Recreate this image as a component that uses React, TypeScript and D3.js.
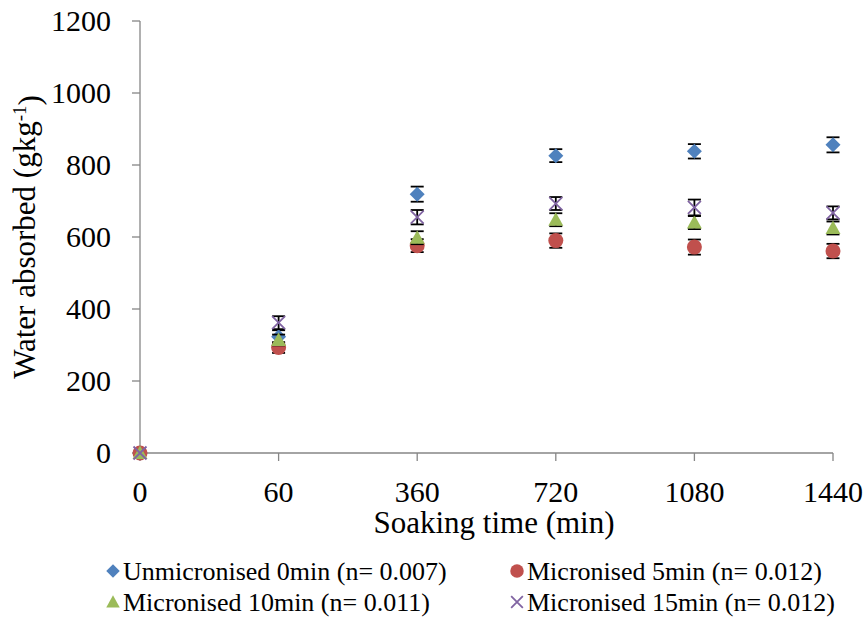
import React from "react";
import * as d3 from "d3";

// Soaking time categories (min)
const times = ["0", "60", "360", "720", "1080", "1440"];

// Water absorbed (g/kg) per series, with standard error
const unmicronised = [0, 323, 719, 826, 838, 856];
const unmicronisedErr = [0, 18, 21, 18, 20, 21];
const micronised5 = [0, 293, 576, 590, 572, 561];
const micronised5Err = [0, 15, 18, 20, 21, 20];
const micronised10 = [0, 314, 598, 648, 640, 625];
const micronised10Err = [0, 15, 18, 18, 18, 18];
const micronised15 = [0, 362, 655, 693, 682, 667];
const micronised15Err = [0, 18, 20, 18, 22, 18];

const yTicks = [0, 200, 400, 600, 800, 1000, 1200];

const seriesNames = [
  "Unmicronised 0min (n= 0.007)",
  "Micronised 5min (n= 0.012)",
  "Micronised 10min (n= 0.011)",
  "Micronised 15min (n= 0.012)",
];

const colors = ["#4F81BD", "#C0504D", "#9BBB59", "#8064A2"];
const shapes = ["diamond", "circle", "triangle", "cross"];

const textStyle = { fontFamily: '"Liberation Serif", monospace' };

function Marker({ shape, color, x, y, s = 1 }: { shape: string; color: string; x: number; y: number; s?: number }) {
  if (shape === "diamond") {
    const r = 7.5 * s;
    return <path d={`M${x},${y - r}L${x + r},${y}L${x},${y + r}L${x - r},${y}Z`} fill={color} />;
  }
  if (shape === "circle") {
    return <circle cx={x} cy={y} r={7.5 * s} fill={color} />;
  }
  if (shape === "triangle") {
    const w = 7.5 * s;
    return <path d={`M${x},${y - 7.5 * s}L${x + w},${y + 6 * s}L${x - w},${y + 6 * s}Z`} fill={color} />;
  }
  const r = 6.5 * s;
  return (
    <path
      d={`M${x - r},${y - r}L${x + r},${y + r}M${x + r},${y - r}L${x - r},${y + r}`}
      stroke={color}
      strokeWidth={1.8}
      fill="none"
    />
  );
}

export default function App() {
  const width = 867;
  const height = 622;
  const x = d3.scalePoint<string>().domain(times).range([140, 833]);
  const y = d3.scaleLinear().domain([0, 1200]).range([453, 21]);

  const series = [
    { values: unmicronised, err: unmicronisedErr },
    { values: micronised5, err: micronised5Err },
    { values: micronised10, err: micronised10Err },
    { values: micronised15, err: micronised15Err },
  ];

  const axisColor = "#868686";
  const capHalf = 6.5;

  return (
    <svg
      width={width}
      height={height}
      style={{ position: "absolute", left: 0, top: 0, background: "#fff" }}
    >
      {/* y axis */}
      <line x1={140} x2={140} y1={y(1200)} y2={y(0)} stroke={axisColor} strokeWidth={1.3} />
      {yTicks.map((t) => (
        <g key={t}>
          <line x1={132} x2={140} y1={y(t)} y2={y(t)} stroke={axisColor} strokeWidth={1.3} />
          <text x={111} y={y(t) + 10} textAnchor="end" fontSize={30} fill="#000" style={textStyle}>
            {t}
          </text>
        </g>
      ))}
      {/* x axis */}
      <line x1={140} x2={833} y1={y(0)} y2={y(0)} stroke={axisColor} strokeWidth={1.3} />
      {times.map((t) => (
        <g key={t}>
          <line x1={x(t)!} x2={x(t)!} y1={y(0)} y2={y(0) + 8} stroke={axisColor} strokeWidth={1.3} />
          <text x={x(t)!} y={502} textAnchor="middle" fontSize={30} fill="#000" style={textStyle}>
            {t}
          </text>
        </g>
      ))}

      {/* axis titles */}
      <text x={494} y={533} textAnchor="middle" fontSize={31} fill="#000" style={textStyle}>
        Soaking time (min)
      </text>
      <text
        transform={`translate(35,${y(600)}) rotate(-90)`}
        textAnchor="middle"
        fontSize={31}
        fill="#000"
        style={textStyle}
      >
        Water absorbed (gkg
        <tspan dy="-0.45em" fontSize={19}>-1</tspan>
        <tspan dy="0.45em">)</tspan>
      </text>

      {/* series markers and error bars */}
      {series.map((s, si) => (
        <g key={si}>
          {s.values.map((v, i) => {
            const cx = x(times[i])!;
            const cy = y(v);
            const e = s.err[i];
            return (
              <g key={i}>
                {e > 0 && (
                  <g stroke="#000" strokeWidth={1.8}>
                    <line x1={cx} x2={cx} y1={y(v + e)} y2={y(v - e)} />
                    <line x1={cx - capHalf} x2={cx + capHalf} y1={y(v + e)} y2={y(v + e)} />
                    <line x1={cx - capHalf} x2={cx + capHalf} y1={y(v - e)} y2={y(v - e)} />
                  </g>
                )}
                <Marker shape={shapes[si]} color={colors[si]} x={cx} y={cy} />
              </g>
            );
          })}
        </g>
      ))}

      {/* legend */}
      {seriesNames.map((name, i) => {
        const col = i % 2;
        const row = Math.floor(i / 2);
        const mx = col === 0 ? 113 : 517;
        const baseline = row === 0 ? 580 : 611;
        return (
          <g key={name}>
            <Marker shape={shapes[i]} color={colors[i]} x={mx} y={baseline - 9} s={0.9} />
            <text x={mx + 10} y={baseline} fontSize={26} fill="#000" style={textStyle}>
              {name}
            </text>
          </g>
        );
      })}
    </svg>
  );
}
